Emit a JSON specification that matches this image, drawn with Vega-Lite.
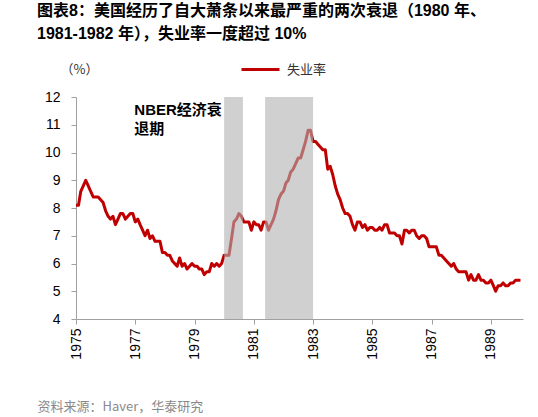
{
  "$schema": "https://vega.github.io/schema/vega-lite/v6.json",
  "width": 447,
  "height": 222,
  "autosize": {"type": "none"},
  "padding": {"left": 76, "top": 97, "right": 15, "bottom": 98},
  "background": "white",
  "title": {
    "text": ["图表8：美国经历了自大萧条以来最严重的两次衰退（1980 年、", "1981-1982 年），失业率一度超过 10%"],
    "anchor": "start",
    "frame": "group",
    "dx": -39,
    "offset": 7,
    "fontSize": 16,
    "fontWeight": "bold",
    "font": "Liberation Sans, Noto Sans CJK SC",
    "color": "#000000",
    "lineHeight": 23
  },
  "config": {
    "view": {"stroke": null},
    "axis": {"grid": false, "domainColor": "#a0a0a0", "tickColor": "#a0a0a0", "labelFont": "Liberation Sans", "labelColor": "#000000", "labelFontSize": 14, "labelOverlap": false}
  },
  "layer": [
    {
      "data": {"values": [
        {"d":"1975-01-01","u":8.1},{"d":"1975-02-01","u":8.1},{"d":"1975-03-01","u":8.6},{"d":"1975-04-01","u":8.8},{"d":"1975-05-01","u":9.0},{"d":"1975-06-01","u":8.8},{"d":"1975-07-01","u":8.6},{"d":"1975-08-01","u":8.4},{"d":"1975-09-01","u":8.4},{"d":"1975-10-01","u":8.4},{"d":"1975-11-01","u":8.3},{"d":"1975-12-01","u":8.2},
        {"d":"1976-01-01","u":7.9},{"d":"1976-02-01","u":7.7},{"d":"1976-03-01","u":7.6},{"d":"1976-04-01","u":7.7},{"d":"1976-05-01","u":7.4},{"d":"1976-06-01","u":7.6},{"d":"1976-07-01","u":7.8},{"d":"1976-08-01","u":7.8},{"d":"1976-09-01","u":7.6},{"d":"1976-10-01","u":7.7},{"d":"1976-11-01","u":7.8},{"d":"1976-12-01","u":7.8},
        {"d":"1977-01-01","u":7.5},{"d":"1977-02-01","u":7.6},{"d":"1977-03-01","u":7.4},{"d":"1977-04-01","u":7.2},{"d":"1977-05-01","u":7.0},{"d":"1977-06-01","u":7.2},{"d":"1977-07-01","u":6.9},{"d":"1977-08-01","u":7.0},{"d":"1977-09-01","u":6.8},{"d":"1977-10-01","u":6.8},{"d":"1977-11-01","u":6.8},{"d":"1977-12-01","u":6.4},
        {"d":"1978-01-01","u":6.4},{"d":"1978-02-01","u":6.3},{"d":"1978-03-01","u":6.3},{"d":"1978-04-01","u":6.1},{"d":"1978-05-01","u":6.0},{"d":"1978-06-01","u":5.9},{"d":"1978-07-01","u":6.2},{"d":"1978-08-01","u":5.9},{"d":"1978-09-01","u":6.0},{"d":"1978-10-01","u":5.8},{"d":"1978-11-01","u":5.9},{"d":"1978-12-01","u":6.0},
        {"d":"1979-01-01","u":5.9},{"d":"1979-02-01","u":5.9},{"d":"1979-03-01","u":5.8},{"d":"1979-04-01","u":5.8},{"d":"1979-05-01","u":5.6},{"d":"1979-06-01","u":5.7},{"d":"1979-07-01","u":5.7},{"d":"1979-08-01","u":6.0},{"d":"1979-09-01","u":5.9},{"d":"1979-10-01","u":6.0},{"d":"1979-11-01","u":5.9},{"d":"1979-12-01","u":6.0},
        {"d":"1980-01-01","u":6.3},{"d":"1980-02-01","u":6.3},{"d":"1980-03-01","u":6.3},{"d":"1980-04-01","u":6.9},{"d":"1980-05-01","u":7.5},{"d":"1980-06-01","u":7.6},{"d":"1980-07-01","u":7.8},{"d":"1980-08-01","u":7.7},{"d":"1980-09-01","u":7.5},{"d":"1980-10-01","u":7.5},{"d":"1980-11-01","u":7.5},{"d":"1980-12-01","u":7.2},
        {"d":"1981-01-01","u":7.5},{"d":"1981-02-01","u":7.4},{"d":"1981-03-01","u":7.4},{"d":"1981-04-01","u":7.2},{"d":"1981-05-01","u":7.5},{"d":"1981-06-01","u":7.5},{"d":"1981-07-01","u":7.2},{"d":"1981-08-01","u":7.4},{"d":"1981-09-01","u":7.6},{"d":"1981-10-01","u":7.9},{"d":"1981-11-01","u":8.3},{"d":"1981-12-01","u":8.5},
        {"d":"1982-01-01","u":8.6},{"d":"1982-02-01","u":8.9},{"d":"1982-03-01","u":9.0},{"d":"1982-04-01","u":9.3},{"d":"1982-05-01","u":9.4},{"d":"1982-06-01","u":9.6},{"d":"1982-07-01","u":9.8},{"d":"1982-08-01","u":9.8},{"d":"1982-09-01","u":10.1},{"d":"1982-10-01","u":10.4},{"d":"1982-11-01","u":10.8},{"d":"1982-12-01","u":10.8},
        {"d":"1983-01-01","u":10.4},{"d":"1983-02-01","u":10.4},{"d":"1983-03-01","u":10.3},{"d":"1983-04-01","u":10.2},{"d":"1983-05-01","u":10.1},{"d":"1983-06-01","u":10.1},{"d":"1983-07-01","u":9.4},{"d":"1983-08-01","u":9.5},{"d":"1983-09-01","u":9.2},{"d":"1983-10-01","u":8.8},{"d":"1983-11-01","u":8.5},{"d":"1983-12-01","u":8.3},
        {"d":"1984-01-01","u":8.0},{"d":"1984-02-01","u":7.8},{"d":"1984-03-01","u":7.8},{"d":"1984-04-01","u":7.7},{"d":"1984-05-01","u":7.4},{"d":"1984-06-01","u":7.2},{"d":"1984-07-01","u":7.5},{"d":"1984-08-01","u":7.5},{"d":"1984-09-01","u":7.3},{"d":"1984-10-01","u":7.4},{"d":"1984-11-01","u":7.2},{"d":"1984-12-01","u":7.3},
        {"d":"1985-01-01","u":7.3},{"d":"1985-02-01","u":7.2},{"d":"1985-03-01","u":7.2},{"d":"1985-04-01","u":7.3},{"d":"1985-05-01","u":7.2},{"d":"1985-06-01","u":7.4},{"d":"1985-07-01","u":7.4},{"d":"1985-08-01","u":7.1},{"d":"1985-09-01","u":7.1},{"d":"1985-10-01","u":7.1},{"d":"1985-11-01","u":7.0},{"d":"1985-12-01","u":7.0},
        {"d":"1986-01-01","u":6.7},{"d":"1986-02-01","u":7.2},{"d":"1986-03-01","u":7.2},{"d":"1986-04-01","u":7.1},{"d":"1986-05-01","u":7.2},{"d":"1986-06-01","u":7.2},{"d":"1986-07-01","u":7.0},{"d":"1986-08-01","u":6.9},{"d":"1986-09-01","u":7.0},{"d":"1986-10-01","u":7.0},{"d":"1986-11-01","u":6.9},{"d":"1986-12-01","u":6.6},
        {"d":"1987-01-01","u":6.6},{"d":"1987-02-01","u":6.6},{"d":"1987-03-01","u":6.6},{"d":"1987-04-01","u":6.3},{"d":"1987-05-01","u":6.3},{"d":"1987-06-01","u":6.2},{"d":"1987-07-01","u":6.1},{"d":"1987-08-01","u":6.0},{"d":"1987-09-01","u":5.9},{"d":"1987-10-01","u":6.0},{"d":"1987-11-01","u":5.8},{"d":"1987-12-01","u":5.7},
        {"d":"1988-01-01","u":5.7},{"d":"1988-02-01","u":5.7},{"d":"1988-03-01","u":5.7},{"d":"1988-04-01","u":5.4},{"d":"1988-05-01","u":5.6},{"d":"1988-06-01","u":5.4},{"d":"1988-07-01","u":5.4},{"d":"1988-08-01","u":5.6},{"d":"1988-09-01","u":5.4},{"d":"1988-10-01","u":5.4},{"d":"1988-11-01","u":5.3},{"d":"1988-12-01","u":5.3},
        {"d":"1989-01-01","u":5.4},{"d":"1989-02-01","u":5.2},{"d":"1989-03-01","u":5.0},{"d":"1989-04-01","u":5.2},{"d":"1989-05-01","u":5.2},{"d":"1989-06-01","u":5.3},{"d":"1989-07-01","u":5.2},{"d":"1989-08-01","u":5.2},{"d":"1989-09-01","u":5.3},{"d":"1989-10-01","u":5.3},{"d":"1989-11-01","u":5.4},{"d":"1989-12-01","u":5.4},
        {"d":"1990-01-01","u":5.4}
      ]},
      "mark": {"type": "line", "strokeWidth": 3, "color": "#c00000", "strokeJoin": "round"},
      "encoding": {
        "x": {
          "field": "d", "type": "temporal",
          "scale": {"domain": ["1975-01-01", "1990-02-01"]},
          "axis": {
            "values": [{"year":1975},{"year":1977},{"year":1979},{"year":1981},{"year":1983},{"year":1985},{"year":1987},{"year":1989}],
            "tickCount": 20,
            "format": "%Y", "labelAngle": -90, "tickSize": 5, "labelPadding": 4, "labelFontSize": 14,
            "title": "资料来源：Haver，华泰研究",
            "titleX": -39, "titleY": 91, "titleAlign": "left", "titleAnchor": null, "titleBaseline": "alphabetic",
            "titleColor": "#8a8a8a", "titleFontWeight": "normal", "titleFontSize": 13, "titleFont": "Noto Sans CJK SC"
          }
        },
        "y": {
          "field": "u", "type": "quantitative",
          "scale": {"domain": [4, 12]},
          "axis": {
            "values": [4,5,6,7,8,9,10,11,12], "tickCount": 20, "format": "d", "labelOverlap": false, "tickSize": 5, "labelPadding": 11,
            "title": "（%）", "titleAngle": 0, "titleX": -16, "titleY": -24, "titleAlign": "left", "titleBaseline": "alphabetic",
            "titleFontWeight": "normal", "titleFontSize": 13, "titleFont": "Noto Sans CJK SC", "titleColor": "#333333"
          }
        },
        "color": {
          "datum": "失业率", "type": "nominal",
          "scale": {"range": ["#c00000"]},
          "legend": {
            "title": null, "orient": "none", "legendX": 164, "legendY": -48, "padding": 0,
            "symbolType": "stroke", "symbolSize": 1444, "symbolStrokeWidth": 3,
            "labelFont": "Noto Sans CJK SC", "labelFontSize": 13, "labelColor": "#333333", "labelOffset": 6
          }
        }
      }
    },
    {
      "data": {"values": [
        {"s": "1980-01-01", "e": "1980-08-20"},
        {"s": "1981-05-20", "e": "1983-01-01"}
      ]},
      "mark": {"type": "rect", "color": "#b0b0b0", "opacity": 0.6},
      "encoding": {
        "x": {"field": "s", "type": "temporal"},
        "x2": {"field": "e"}
      }
    },
    {
      "data": {"values": [{"d": "1976-12-20", "v": 11.35, "t": "NBER经济衰\n退期"}]},
      "mark": {"type": "text", "align": "left", "baseline": "alphabetic", "lineBreak": "\n", "lineHeight": 19, "fontSize": 15, "fontWeight": "bold", "font": "Liberation Sans, Noto Sans CJK SC", "color": "#000000"},
      "encoding": {
        "x": {"field": "d", "type": "temporal"},
        "y": {"field": "v", "type": "quantitative"},
        "text": {"field": "t"}
      }
    }
  ]
}
